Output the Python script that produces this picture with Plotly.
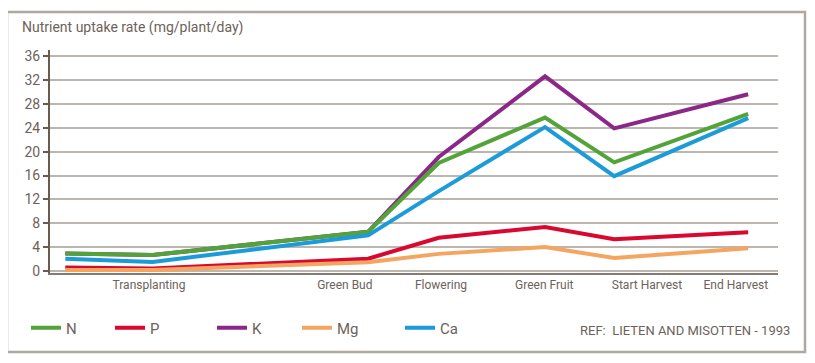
import plotly.graph_objects as go

# Growth stage positions (relative time scale) and values (mg/plant/day)
stage_x = [2.1, 14.1, 43.7, 53.4, 68.0, 77.5, 95.9]
N  = [2.95, 2.7, 6.6, 18.1, 25.7, 18.2, 26.3]
P  = [0.6, 0.45, 2.1, 5.6, 7.4, 5.35, 6.5]
K  = [2.95, 2.7, 6.6, 19.1, 32.6, 23.9, 29.6]
Mg = [0.2, 0.2, 1.5, 2.9, 4.05, 2.2, 3.85]
Ca = [2.1, 1.55, 6.0, 13.4, 24.1, 15.9, 25.6]

tick_pos = [13.6, 40.5, 53.7, 67.9, 82.0, 94.2]
tick_text = ["Transplanting", "Green Bud", "Flowering", "Green Fruit", "Start Harvest", "End Harvest"]
y_ticks = [0, 4, 8, 12, 16, 20, 24, 28, 32, 36]

TXT = "#6d625a"
series = [
    ("K", K, "#8b2788", "legend3"),
    ("N", N, "#52a43a", "legend"),
    ("Ca", Ca, "#1b9bd8", "legend5"),
    ("P", P, "#d9082f", "legend2"),
    ("Mg", Mg, "#f4a560", "legend4"),
]

fig = go.Figure()
for name, vals, col, lg in series:
    fig.add_trace(go.Scatter(x=stage_x, y=vals, mode="lines", name=name,
                             line=dict(color=col, width=4), legend=lg,
                             hoverinfo="skip"))

# screen-pixel helpers (page body has an 8px margin)
PW, L = 728.0, 50.0
PH, B = 223.0, 273.0
def px(p):
    return (p - 5 - L) / PW
def py(p):
    return (B - p) / PH

leg_common = dict(orientation="h", yanchor="middle", xanchor="left",
                  font=dict(family="Roboto", size=15, color=TXT),
                  bgcolor="rgba(0,0,0,0)", itemwidth=30)
legend_x = {"legend": 31, "legend2": 115, "legend3": 217, "legend4": 302, "legend5": 405}
layout_legends = {}
for k, v in legend_x.items():
    layout_legends[k] = dict(x=px(v), y=py(328), **leg_common)

fig.update_layout(
    width=807, height=355,
    margin=dict(l=42, r=37, t=42, b=90),
    paper_bgcolor="white", plot_bgcolor="white",
    showlegend=True,
    font=dict(family="Roboto", color=TXT),
    xaxis=dict(range=[0, 100], showgrid=False, zeroline=False,
               tickvals=tick_pos, ticktext=tick_text, ticks="",
               tickfont=dict(size=12, color=TXT),
               showline=True, linecolor="#857a72", linewidth=2),
    yaxis=dict(range=[-0.3, 37], tickvals=y_ticks, ticks="outside", ticklen=5,
               tickcolor="#6b5a50", tickwidth=1.5,
               tickfont=dict(size=14, color=TXT),
               showgrid=True, gridcolor="#bcb6b0", gridwidth=1.5,
               zeroline=False, showline=True, linecolor="#6b5a50", linewidth=2),
    **layout_legends,
)

fig.add_annotation(text="Nutrient uptake rate (mg/plant/day)", xref="paper", yref="paper",
                   x=(20 - L) / PW, y=py(28), xanchor="left", yanchor="middle",
                   showarrow=False, font=dict(size=14, color=TXT, family="Roboto"))
fig.add_annotation(text="REF:  LIETEN AND MISOTTEN - 1993", xref="paper", yref="paper",
                   x=(792 - L) / PW, y=py(330), xanchor="right", yanchor="middle",
                   showarrow=False, font=dict(size=13, color=TXT, family="Roboto"))
fig.add_shape(type="rect", xref="paper", yref="paper",
              x0=(7 - L) / PW, x1=(805 - L) / PW, y0=py(352), y1=py(12),
              line=dict(color="#aea8a1", width=2.5), layer="below")

fig.write_html("out.html")
